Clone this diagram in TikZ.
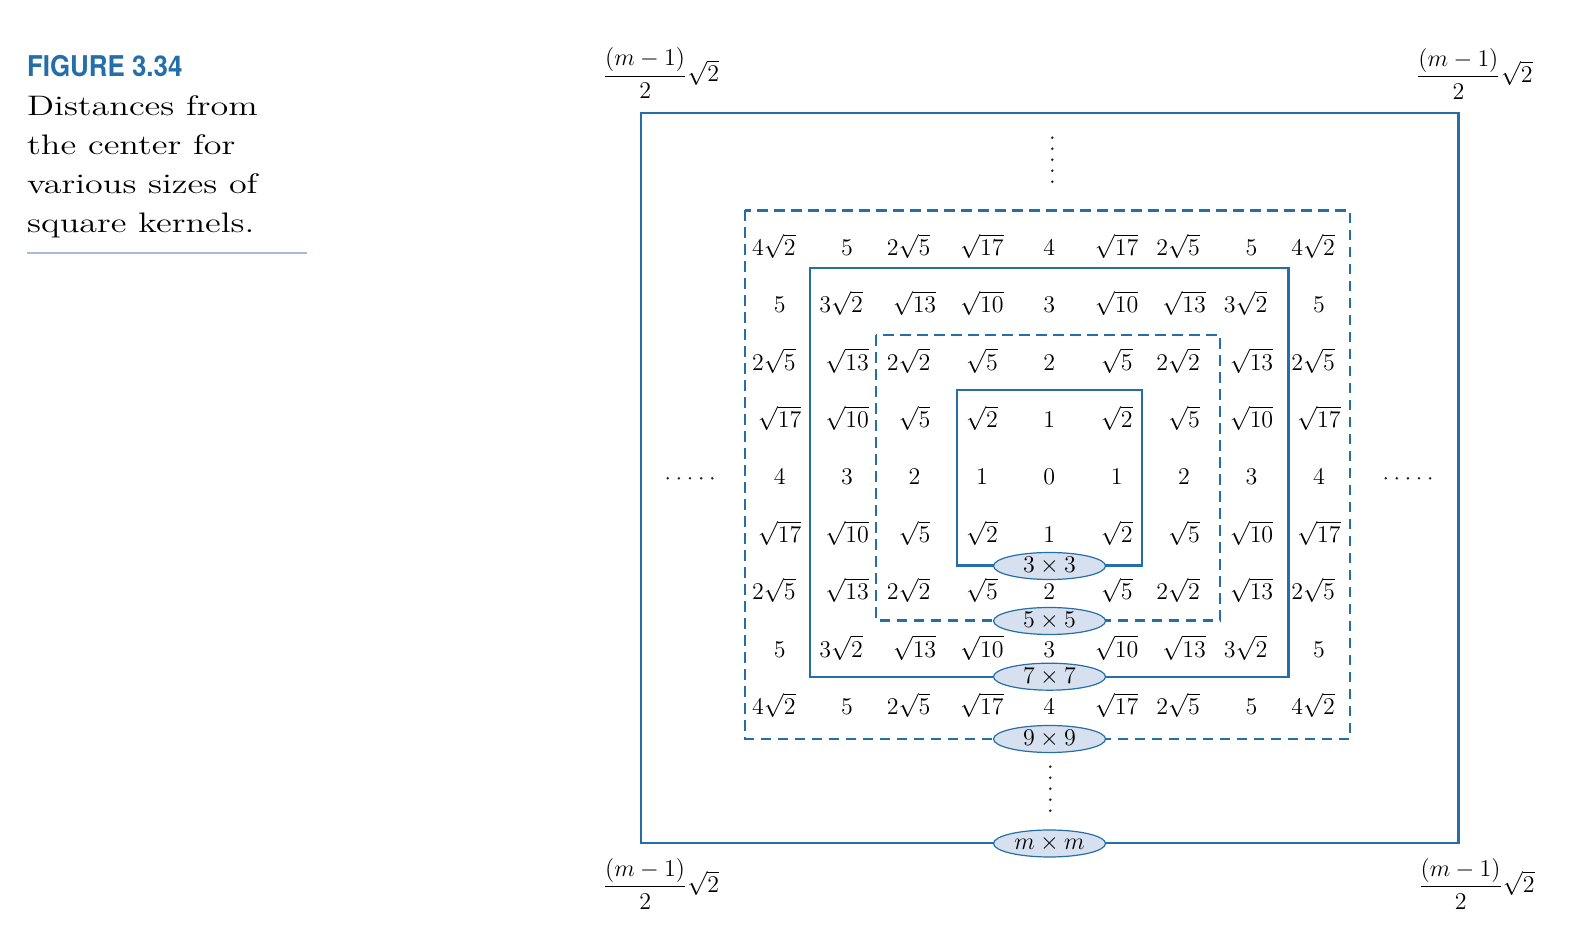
\documentclass[tikz,border=0pt]{standalone}
\usepackage{amsmath,graphicx}
\usepackage{fontspec}
\newfontfamily\figfont{TeX Gyre Heros}
\usetikzlibrary{shapes.geometric}
\definecolor{kblue}{RGB}{36,110,170}
\definecolor{kfill}{RGB}{214,224,238}
\definecolor{krule}{RGB}{170,188,212}
% distance label for squared distance #1
\newcommand\distlab[1]{\ifcase#1 0\or 1\or \sqrt{2}\or\or 2\or \sqrt{5}\or\or\or
  \llap{$2$}\sqrt{2}\or 3\or \sqrt{10}\or\or\or \sqrt{13}\or\or\or 4\or \sqrt{17}\or
  \llap{$3$}\sqrt{2}\or\or \llap{$2$}\sqrt{5}\or\or\or\or\or 5\or\or\or\or\or\or\or
  \llap{$4$}\sqrt{2}\fi}
\tikzset{
  kernel/.style={draw=kblue,line width=1.1pt},
  kdash/.style={kernel,dash pattern=on 5.3pt off 3.2pt},
  klabel/.style={ellipse,draw=kblue,line width=0.6pt,fill=kfill,minimum width=56pt,
    minimum height=13.5pt,inner sep=0pt,font=\fontsize{12.5}{14}\selectfont},
  dist/.style={anchor=base,inner sep=0pt,font=\fontsize{12.5}{14}\selectfont},
  corner/.style={anchor=base,inner sep=0pt,font=\fontsize{12}{14}\selectfont},
  capline/.style={anchor=base west,inner sep=0pt,xscale=1.28,font=\fontsize{14.1}{19}\selectfont},
  kdot/.style={fill=black!85}
}

\begin{document}
\begin{tikzpicture}[x=0.5pt,y=-0.5pt]
    \useasboundingbox (0,0) rectangle (1586,945);
    % caption
    \node[anchor=base west,inner sep=0pt,xscale=0.905,text=kblue,
      font=\figfont\bfseries\fontsize{14.3}{16}\selectfont] (fig) at (26.7,76.7) {FIGURE 3.34};
    \foreach \t [count=\n from 0] in {Distances from,the center for,various sizes of,square kernels.}
        \node[capline] (cap\n) at ({26.7},{116+38.7*\n}) {\t};
    \draw[krule,line width=1pt] (26.7,253.3) -- (306.7,253.3);
    % kernels
    \draw[kernel] (641,113) rectangle (1458.5,843);
    \draw[kdash] (745,210.5) rectangle (1350,739);
    \draw[kernel] (810,268) rectangle (1288.5,676.7);
    \draw[kdash] (876,335) rectangle (1220,620.5);
    \draw[kernel] (957.3,390) rectangle (1142.3,565.6);
    % distances
    \foreach \i in {-4,...,4}
        \foreach \j in {-4,...,4}{
            \pgfmathtruncatemacro\dd{\i*\i+\j*\j}
            \node[dist] (d\i\j) at ({1049.3+67.4*\j},{485+57.4*\i}) {$\distlab{\dd}$};
        }
    % size labels
    \node[klabel] (k3) at (1049.5,566) {$3\times3$};
    \node[klabel] (k5) at (1049.5,621) {$5\times5$};
    \node[klabel] (k7) at (1049.5,676.7) {$7\times7$};
    \node[klabel] (k9) at (1049.5,739) {$9\times9$};
    \node[klabel] (km) at (1049.5,843.5) {$m\times m$};
    % corners
    \node[corner] (tl) at (661,82) {$\dfrac{(m-1)}{2}\sqrt{2}$};
    \node[corner] (tr) at (1474.3,82.7) {$\dfrac{(m-1)}{2}\sqrt{2}$};
    \node[corner] (bl) at (661,892.7) {$\dfrac{(m-1)}{2}\sqrt{2}$};
    \node[corner] (br) at (1476.5,892.7) {$\dfrac{(m-1)}{2}\sqrt{2}$};
    % dots
    \foreach \k in {0,...,4}{
        \fill[kdot] ({1052.3},{137.7+11*\k}) circle (0.7pt);
        \fill[kdot] ({1050.3},{766.7+11*\k}) circle (0.7pt);
        \fill[kdot] ({667.7+11.15*\k},{478.3}) circle (0.7pt);
        \fill[kdot] ({1385.7+11.1*\k},{478.3}) circle (0.7pt);
    }
\end{tikzpicture}
\end{document}
